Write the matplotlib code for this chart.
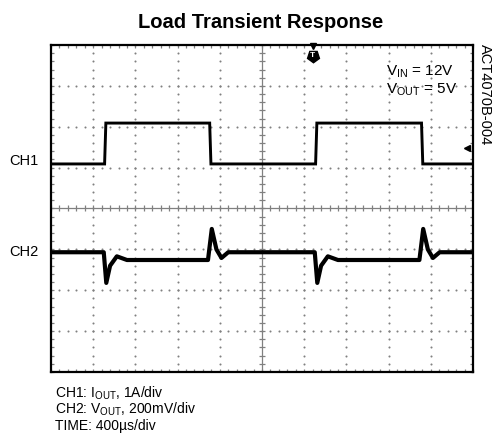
import numpy as np
import matplotlib
matplotlib.use('Agg')
import matplotlib.pyplot as plt
from matplotlib.ticker import MultipleLocator

plt.rcParams['font.family'] = ['Liberation Sans', 'DejaVu Sans']
plt.rcParams['mathtext.fontset'] = 'custom'
plt.rcParams['mathtext.rm'] = 'Liberation Sans'
plt.rcParams['mathtext.it'] = 'Liberation Sans:italic'

# scope traces, x in time divisions (0..10), y in vertical divisions (-4..4)
ch1_t = [0, 1.27, 1.30, 3.76, 3.79, 6.27, 6.30, 8.78, 8.81, 10]
ch1_v = [1.09, 1.09, 2.09, 2.09, 1.09, 1.09, 2.09, 2.09, 1.09, 1.09]

ch2_t = [0, 1.25, 1.31, 1.40, 1.56, 1.80, 3.72, 3.81, 3.92, 4.04, 4.20,
         6.25, 6.31, 6.40, 6.56, 6.80, 8.73, 8.82, 8.93, 9.05, 9.21, 10]
ch2_v = [-1.07, -1.07, -1.82, -1.40, -1.17, -1.26, -1.26, -0.50, -1.00, -1.21, -1.07,
         -1.07, -1.82, -1.40, -1.17, -1.26, -1.26, -0.50, -1.00, -1.21, -1.07, -1.07]

title = 'Load Transient Response'
notes = [r'CH1: I$_{\rm OUT}$, 1A/div',
         r'CH2: V$_{\rm OUT}$, 200mV/div',
         'TIME: 400µs/div']

W, H = 497, 440
fig = plt.figure(figsize=(W / 100, H / 100), dpi=100)
ax = fig.add_axes([51 / W, 1 - 372 / H, 422 / W, 327 / H])
ax.set_xlim(0, 10)
ax.set_ylim(-4, 4)

# graticule dots
gc = '#808080'
steps_y = np.arange(-4, 4.01, 0.2)
steps_x = np.arange(0, 10.01, 0.2)
for gx in range(1, 10):
    if gx != 5:
        ax.scatter(np.full_like(steps_y, gx), steps_y, s=2.2, color=gc, lw=0, zorder=1)
for gy in range(-3, 4):
    if gy != 0:
        ax.scatter(steps_x, np.full_like(steps_x, gy), s=2.2, color=gc, lw=0, zorder=1)
ax.axhline(0, color=gc, lw=0.9, zorder=1)
ax.axvline(5, color=gc, lw=0.9, zorder=1)
ax.plot(steps_x, np.zeros_like(steps_x), ls='none', marker='|', ms=5, mew=0.9, color=gc, zorder=1)
ax.plot(np.full_like(steps_y, 5), steps_y, ls='none', marker='_', ms=5, mew=0.9, color=gc, zorder=1)

ax.xaxis.set_major_locator(MultipleLocator(1))
ax.yaxis.set_major_locator(MultipleLocator(1))
ax.xaxis.set_minor_locator(MultipleLocator(0.2))
ax.yaxis.set_minor_locator(MultipleLocator(0.2))
ax.tick_params(which='both', direction='in', length=2.5, width=0.9, color=gc,
               top=True, right=True, labelbottom=False, labelleft=False)
for s in ax.spines.values():
    s.set_linewidth(1.6)
    s.set_color('black')

ax.plot(ch1_t, ch1_v, color='black', lw=2.1, solid_joinstyle='miter', zorder=3)
ax.plot(ch2_t, ch2_v, color='black', lw=3.0, solid_joinstyle='round', zorder=3)

# trigger and ch1 reference markers
ax.plot([6.2], [3.72], marker=(5, 0, 180), ms=9, color='black', zorder=4, clip_on=False)
ax.text(6.2, 3.74, 'T', color='white', fontsize=6, fontweight='bold', ha='center', va='center', zorder=5)
ax.plot([6.2], [3.97], marker='v', ms=4, color='black', zorder=4, clip_on=False)
ax.plot([9.86], [1.48], marker='<', ms=5, color='black', zorder=4)

ax.text(0.795, 0.917, r'V$_{\rm IN}$ = 12V', transform=ax.transAxes, fontsize=11, ha='left', va='center')
ax.text(0.795, 0.864, r'V$_{\rm OUT}$ = 5V', transform=ax.transAxes, fontsize=11, ha='left', va='center')

fig.text(261 / W, 1 - 22 / H, title, fontsize=14.5, fontweight='bold', ha='center', va='center')
fig.text(485 / W, 1 - 44 / H, 'ACT4070B-004', fontsize=10.5, rotation=270, ha='center', va='top')
fig.text(9 / W, 1 - 161 / H, 'CH1', fontsize=10.5, ha='left', va='center')
fig.text(9 / W, 1 - 252 / H, 'CH2', fontsize=10.5, ha='left', va='center')
for i, line in enumerate(notes):
    fig.text(55 / W, 1 - (393 + 16.5 * i) / H, line, fontsize=10, ha='left', va='center')

fig.savefig('out.png', dpi=100)
